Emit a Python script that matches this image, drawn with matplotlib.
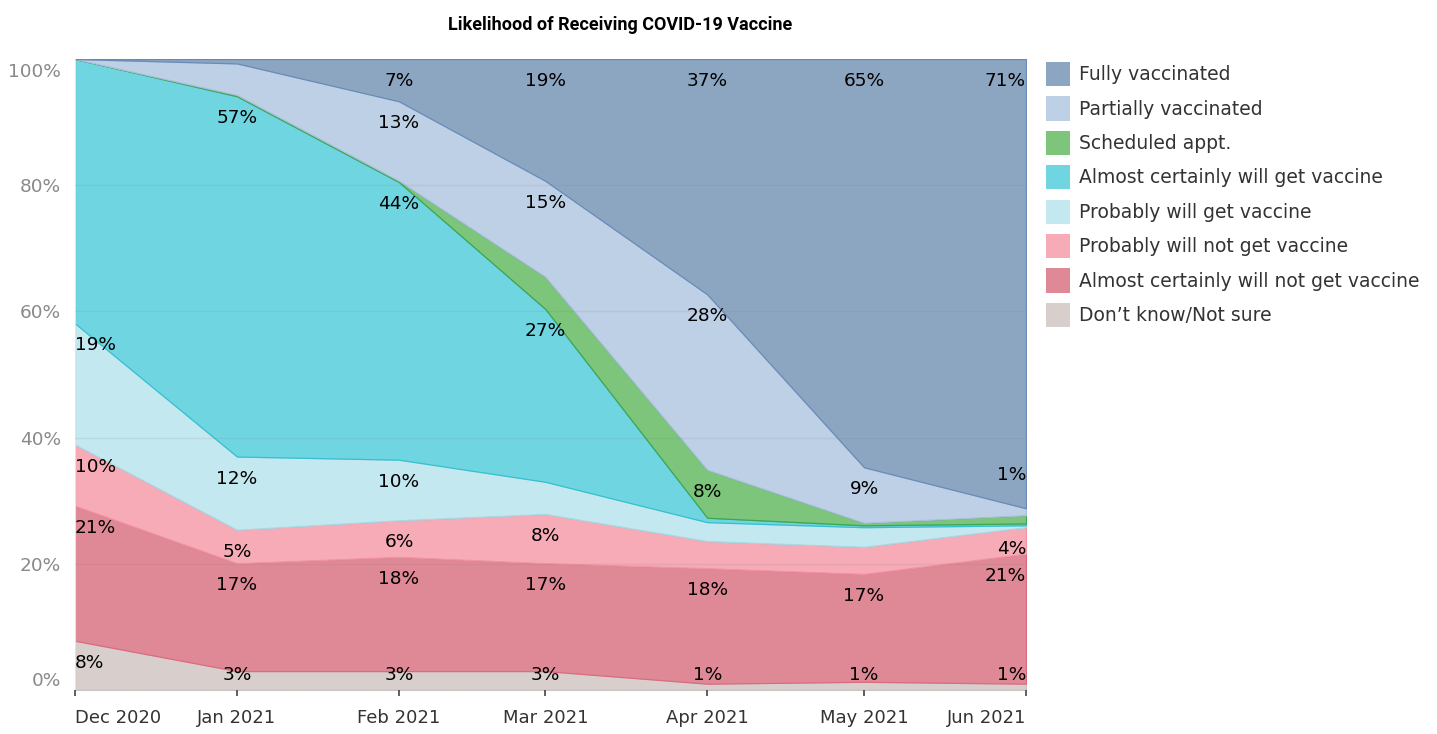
import matplotlib
matplotlib.use('Agg')
import matplotlib.pyplot as plt
import matplotlib.dates as mdates
import matplotlib.transforms as mtransforms
from matplotlib.patches import Patch
import pandas as pd

# monthly survey shares (%), stacked bottom -> top
months = pd.to_datetime(['2020-12-01', '2021-01-01', '2021-02-01', '2021-03-01',
                         '2021-04-01', '2021-05-01', '2021-06-01'])
month_labels = ['Dec 2020', 'Jan 2021', 'Feb 2021', 'Mar 2021', 'Apr 2021', 'May 2021', 'Jun 2021']

dont_know = [7.8, 3.0, 3.0, 3.0, 1.0, 1.3, 1.0]
almost_not = [21.4, 17.1, 18.1, 17.1, 18.3, 17.1, 20.6]
probably_not = [9.7, 5.3, 5.8, 7.8, 4.3, 4.3, 4.2]
probably_will = [19.2, 11.6, 9.6, 5.1, 3.0, 3.1, 0.3]
almost_will = [41.9, 57.1, 44.0, 27.4, 0.7, 0.3, 0.3]
scheduled = [0.0, 0.2, 0.2, 5.1, 7.6, 0.4, 1.3]
partially = [0.0, 5.0, 12.6, 15.2, 27.8, 8.8, 1.1]
fully = [0.0, 0.7, 6.7, 19.3, 37.3, 64.7, 71.2]

# which points get a label (1 = below top edge, 2 = above top edge)
dont_know_lbl = [1, 1, 1, 1, 1, 1, 1]
almost_not_lbl = [1, 1, 1, 1, 1, 1, 1]
probably_not_lbl = [1, 1, 1, 1, 0, 0, 1]
probably_will_lbl = [1, 1, 1, 0, 0, 0, 0]
almost_will_lbl = [0, 1, 1, 1, 0, 0, 0]
scheduled_lbl = [0, 0, 0, 0, 1, 0, 0]
partially_lbl = [0, 0, 1, 1, 1, 1, 2]
fully_lbl = [0, 0, 1, 1, 1, 1, 1]

names = ['Don\u2019t know/Not sure', 'Almost certainly will not get vaccine',
         'Probably will not get vaccine', 'Probably will get vaccine',
         'Almost certainly will get vaccine', 'Scheduled appt.',
         'Partially vaccinated', 'Fully vaccinated']
series = [dont_know, almost_not, probably_not, probably_will, almost_will, scheduled, partially, fully]
show = [dont_know_lbl, almost_not_lbl, probably_not_lbl, probably_will_lbl,
        almost_will_lbl, scheduled_lbl, partially_lbl, fully_lbl]
fills = ['#d8cfcd', '#e08996', '#f6abb7', '#c4e8ef', '#6fd6e1', '#7dc57b', '#bed0e6', '#8ca6c2']
edges = ['#cbbfbd', '#dc6a7e', '#f093a3', '#a6d9e6', '#36bfd0', '#3fa650', '#a9bfdc', '#6a8bb8']

plt.rcParams['font.family'] = ['DejaVu Sans']

fig = plt.figure(figsize=(14.37, 7.34), dpi=100)
ax = fig.add_axes([75 / 1437, 44 / 734, 951 / 1437, 631 / 734])

x = mdates.date2num(months)
polys = ax.stackplot(x, *series, colors=fills, linewidth=0.9)
for p, ec in zip(polys, edges):
    p.set_edgecolor(ec)

# data labels
n = len(x)
bottom = [0.0] * n
for vals, flags in zip(series, show):
    for i in range(n):
        top = bottom[i] + vals[i]
        if flags[i]:
            if flags[i] == 2:
                y = top + 5.3
            else:
                y = max(top - 3.5, 2.4)
            ha = 'left' if i == 0 else ('right' if i == n - 1 else 'center')
            ax.text(x[i], y, f'{round(vals[i])}%', ha=ha, va='center',
                    fontsize=13.3, color='black', zorder=5)
        bottom[i] = top

ax.set_xlim(x[0], x[-1])
ax.set_ylim(0, 100)

ax.set_xticks(x)
ax.set_xticklabels(month_labels)
xl = ax.get_xticklabels()
xl[0].set_ha('left')
xl[-1].set_ha('right')
ax.tick_params(axis='x', length=4.5, width=1.2, color='#444444', labelcolor='#333333',
               labelsize=13, pad=9)

yt = [0, 20, 40, 60, 80, 100]
ax.set_yticks(yt)
ax.set_yticklabels([f'{v}%' for v in yt])
ax.tick_params(axis='y', length=0, labelcolor='#8a8a8a', labelsize=13.3, pad=10)
yl = ax.get_yticklabels()
yl[0].set_va('bottom')
yl[-1].set_va('top')
yl[-1].set_transform(yl[-1].get_transform() +
                     mtransforms.ScaledTranslation(0, -4 / 100, fig.dpi_scale_trans))

ax.set_axisbelow(False)
ax.yaxis.grid(True, color='#777777', alpha=0.12, lw=1)

for s in ['top', 'right']:
    ax.spines[s].set_visible(False)
ax.spines['left'].set_color('#e4e4e4')
ax.spines['bottom'].set_color('#c8c8c8')
ax.spines['bottom'].set_linestyle((0, (2, 2)))
ax.spines['bottom'].set_linewidth(0.8)

fig.text(620 / 1437, 1 - 25 / 734, 'Likelihood of Receiving COVID-19 Vaccine',
         ha='center', va='center', fontsize=13, fontweight='bold', family=['Roboto', 'DejaVu Sans'])

handles = [Patch(facecolor=c, edgecolor='none') for c in fills[::-1]]
fig.legend(handles, names[::-1], loc='upper left', bbox_to_anchor=(1046 / 1437, 1 - 62 / 734),
           frameon=False, fontsize=13.5, handlelength=1.3, handleheight=1.6,
           handletextpad=0.45, labelspacing=0.55, borderpad=0, borderaxespad=0,
           labelcolor='#333333')

fig.savefig('out.png', dpi=100)
